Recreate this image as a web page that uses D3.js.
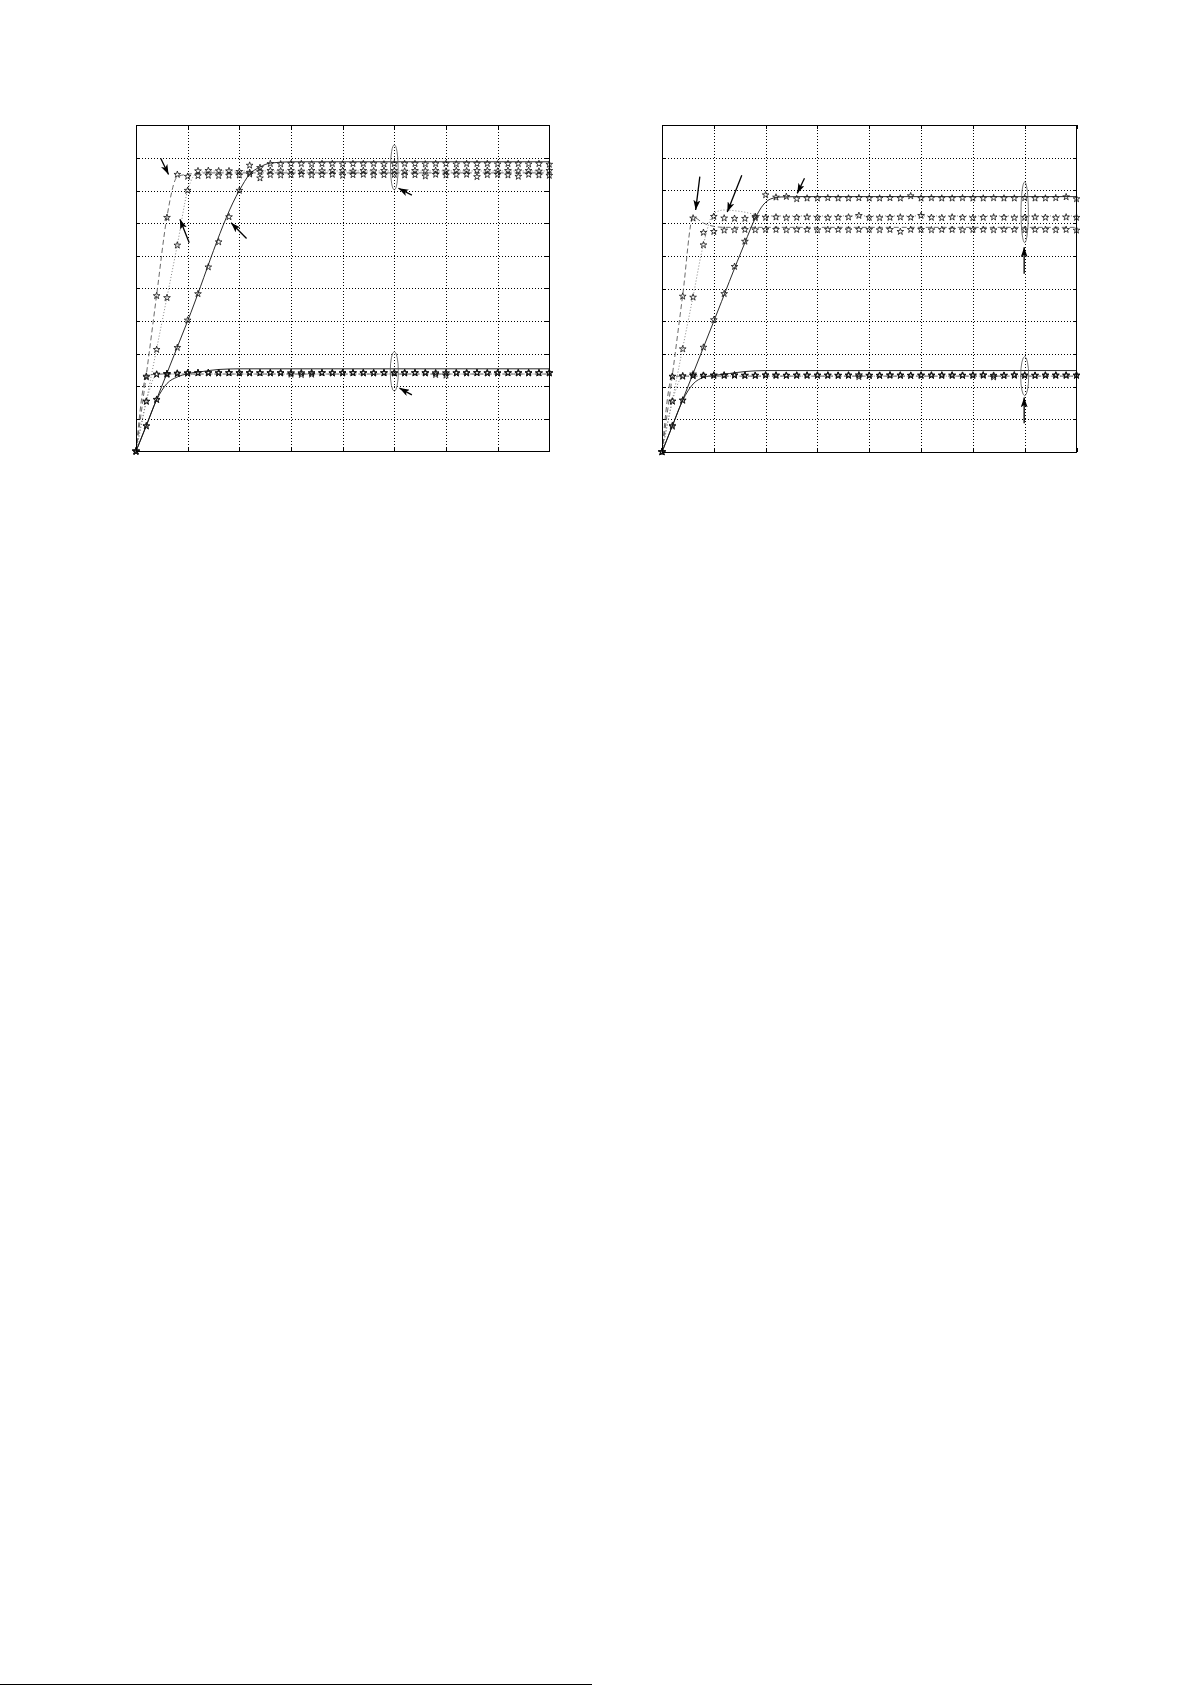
<!DOCTYPE html>
<html><head><meta charset="utf-8">
<script src="https://cdn.jsdelivr.net/npm/d3@7"></script>
<style>body{margin:0;background:#fff}svg{display:block}</style>
</head><body>
<svg id="chart" width="1191" height="1685"></svg>
<script>
// ---------- data ----------
const timeTicks = [0,1,2,3,4,5,6,7,8];
const levelTicks = [0,1,2,3,4,5,6,7,8,9,10];
const sampleTimes = [0,0.2,0.4,0.6,0.8,1,1.2,1.4,1.6,1.8,2,2.2,2.4,2.6,2.8,3,3.2,3.4,3.6,3.8,4,4.2,4.4,4.6,4.8,5,5.2,5.4,5.6,5.8,6,6.2,6.4,6.6,6.8,7,7.2,7.4,7.6,7.8,8];

// left panel – star samples
const lSolidUpStars = [0,0.78,1.58,2.36,3.18,4.02,4.83,5.65,6.42,7.19,8.00,8.77,8.70,
 8.82,8.81,8.82,8.82,8.81,8.82,8.82,8.81,8.82,8.82,8.82,8.81,8.82,8.82,8.82,8.81,8.82,8.82,8.81,8.82,8.82,8.82,8.81,8.82,8.82,8.81,8.82,8.80];
const lDashUpStars = [0,2.30,4.77,7.17,8.49,8.43,8.45,8.46,8.45,8.46,8.47,8.50,8.38,
 8.48,8.47,8.48,8.49,8.47,8.48,8.49,8.46,8.48,8.49,8.47,8.48,8.49,8.47,8.48,8.44,8.49,8.47,8.48,8.49,8.42,8.48,8.49,8.47,8.43,8.49,8.47,8.46];
const lDotUpStars = [0,1.53,3.12,4.71,6.32,8.00,8.60,8.61,8.60,8.60,8.58,8.55,8.57,
 8.61,8.60,8.61,8.59,8.61,8.60,8.61,8.61,8.59,8.61,8.60,8.61,8.61,8.59,8.61,8.60,8.61,8.59,8.61,8.60,8.61,8.61,8.59,8.61,8.60,8.61,8.59,8.61];
const lSolidLowStars = [0,0.77,1.59,2.36,2.38,2.39,
 2.40,2.40,2.40,2.41,2.40,2.40,2.40,2.40,2.41,2.36,2.35,2.36,2.40,2.40,2.40,2.41,2.40,2.40,2.40,2.40,2.40,2.41,2.40,2.35,2.33,2.40,2.40,2.41,2.40,2.40,2.40,2.40,2.41,2.40,2.40];
const lDashLowStars = [0,2.28,2.36,2.38,2.39,2.40,
 2.40,2.41,2.40,2.40,2.40,2.41,2.40,2.40,2.40,2.40,2.40,2.40,2.41,2.40,2.40,2.40,2.41,2.40,2.40,2.40,2.41,2.40,2.40,2.40,2.40,2.40,2.41,2.40,2.40,2.40,2.41,2.40,2.40,2.40,2.41];
const lDotLowStars = [0,1.53,2.36,2.38,2.39,2.40,
 2.41,2.40,2.40,2.40,2.41,2.40,2.40,2.41,2.40,2.40,2.40,2.41,2.40,2.40,2.41,2.40,2.40,2.40,2.41,2.40,2.40,2.40,2.41,2.40,2.40,2.40,2.40,2.41,2.40,2.40,2.40,2.41,2.40,2.40,2.40];

// left panel – curves
const lSolidUpT = [0,1,2,2.2,2.4,2.6,3,8];
const lSolidUpV = [0,4,8,8.5,8.72,8.84,8.88,8.88];
const lDashUpT = [0,0.2,0.4,0.6,0.8,1,1.4,8];
const lDashUpV = [0,2.35,4.8,7.2,8.42,8.5,8.54,8.54];
const lDotUpT = [0,0.2,0.4,0.6,0.8,1,1.2,1.6,8];
const lDotUpV = [0,1.55,3.15,4.73,6.33,8.0,8.55,8.6,8.6];
const lSolidLowT = [0,0.2,0.4,0.6,0.8,1,1.3,1.6,2,8];
const lSolidLowV = [0,0.78,1.58,2.08,2.28,2.38,2.45,2.51,2.53,2.53];
const lDashLowT = [0,0.2,0.3,0.5,8];
const lDashLowV = [0,2.28,2.35,2.37,2.37];
const lDotLowT = [0,0.2,0.4,0.6,8];
const lDotLowV = [0,1.53,2.35,2.37,2.37];

// right panel – star samples
const rSolidUpStars = [0,0.78,1.58,2.38,3.20,4.04,4.84,5.67,6.44,7.20,7.86,7.79,7.81,7.74,
 7.76,7.76,7.77,7.76,7.76,7.77,7.76,7.76,7.77,7.76,7.83,7.76,7.77,7.76,7.76,7.77,7.76,7.76,7.77,7.76,7.76,7.77,7.76,7.76,7.77,7.80,7.74];
const rDashUpStars = [0,2.31,4.76,7.15,6.71,6.74,
 6.78,6.79,6.80,6.79,6.80,6.80,6.79,6.80,6.80,6.79,6.80,6.80,6.79,6.80,6.80,6.79,6.80,6.74,6.80,6.80,6.79,6.80,6.80,6.79,6.80,6.80,6.79,6.80,6.80,6.79,6.80,6.80,6.79,6.80,6.78];
const rDotUpStars = [0,1.55,3.15,4.73,6.33,7.20,
 7.15,7.14,7.14,7.16,7.17,7.18,7.16,7.17,7.18,7.17,7.16,7.17,7.18,7.23,7.17,7.16,7.17,7.18,7.17,7.23,7.17,7.16,7.18,7.17,7.16,7.17,7.18,7.17,7.16,7.17,7.18,7.17,7.16,7.18,7.17];
const rSolidLowStars = [0,0.81,1.58,2.34,2.34,2.35,
 2.34,2.35,2.34,2.34,2.35,2.34,2.34,2.35,2.34,2.34,2.35,2.34,2.34,2.35,2.34,2.34,2.35,2.34,2.34,2.35,2.34,2.34,2.35,2.34,2.34,2.35,2.34,2.34,2.35,2.34,2.34,2.35,2.34,2.34,2.35];
const rDashLowStars = [0,2.31,2.33,2.34,2.34,2.34,
 2.35,2.34,2.34,2.34,2.35,2.34,2.34,2.34,2.35,2.34,2.34,2.34,2.35,2.30,2.34,2.34,2.35,2.34,2.34,2.34,2.35,2.34,2.34,2.34,2.35,2.34,2.29,2.34,2.35,2.34,2.34,2.34,2.35,2.34,2.34];
const rDotLowStars = [0,1.55,2.31,2.33,2.34,2.34,
 2.34,2.35,2.34,2.34,2.34,2.35,2.34,2.34,2.34,2.35,2.34,2.34,2.34,2.35,2.34,2.34,2.34,2.35,2.34,2.34,2.34,2.35,2.34,2.34,2.34,2.35,2.34,2.34,2.34,2.35,2.34,2.34,2.34,2.35,2.34];

// right panel – curves
const rSolidUpT = [0,1,1.6,1.8,1.95,2.1,2.3,2.6,8];
const rSolidUpV = [0,4,6.4,7.15,7.55,7.74,7.8,7.81,7.81];
const rDashUpT = [0,0.2,0.4,0.6,0.8,1,1.2,8];
const rDashUpV = [0,2.35,4.8,7.18,7.0,6.9,6.87,6.87];
const rDotUpT = [0,0.2,0.4,0.6,0.8,1,1.2,1.5,2,8];
const rDotUpV = [0,1.58,3.18,4.76,6.35,7.3,7.4,7.36,7.22,7.22];
const rSolidLowT = [0,0.2,0.4,0.6,0.8,1,1.3,1.6,2,8];
const rSolidLowV = [0,0.8,1.58,2.08,2.28,2.34,2.40,2.46,2.49,2.49];
const rDashLowT = [0,0.2,0.35,8];
const rDashLowV = [0,2.3,2.32,2.32];
const rDotLowT = [0,0.2,0.4,0.55,8];
const rDotLowV = [0,1.55,2.3,2.32,2.32];

// annotations (data units)
const lEllipses = [[5.0,8.71,0.074,0.69],[5.0,2.45,0.078,0.61]];
const lArrows = [[0.48,8.98,0.63,8.49],[1.03,6.40,0.85,7.12],[2.14,6.53,1.84,7.01],[5.34,7.86,5.08,8.07],[5.34,1.73,5.10,1.94]];
const rEllipses = [[7.0,7.33,0.071,0.93],[7.0,2.32,0.077,0.60]];
const rArrows = [[0.73,8.42,0.65,7.40],[1.54,8.46,1.26,7.34],[2.75,8.37,2.61,7.91],[6.99,5.45,6.99,6.26],[6.99,0.88,6.99,1.67]];

// ---------- drawing ----------
const svg = d3.select("#chart");
svg.append("rect").attr("width",1191).attr("height",1685).attr("fill","#fff");

const defs = svg.append("defs");
defs.append("marker").attr("id","arrowHead")
  .attr("viewBox","0 0 10 7").attr("refX",10).attr("refY",3.5)
  .attr("markerWidth",10).attr("markerHeight",7)
  .attr("markerUnits","userSpaceOnUse").attr("orient","auto")
  .append("path").attr("d","M0,0 L10,3.5 L0,7 L2.5,3.5 Z").attr("fill","#000");

const styles = {
  solid: {stroke:"#111", width:0.9, dash:null},
  dash:  {stroke:"#444", width:0.8, dash:"5,3"},
  dot:   {stroke:"#777", width:0.9, dash:"1,2"}
};

const panels = [
  { box:{l:136, r:549.3, t:125.3, b:451.3},
    lines:[["solid",lSolidUpT,lSolidUpV],["dash",lDashUpT,lDashUpV],["dot",lDotUpT,lDotUpV],
           ["solid",lSolidLowT,lSolidLowV],["dash",lDashLowT,lDashLowV],["dot",lDotLowT,lDotLowV]],
    stars:[lSolidUpStars,lDashUpStars,lDotUpStars,lSolidLowStars,lDashLowStars,lDotLowStars],
    ellipses:lEllipses, arrows:lArrows },
  { box:{l:662, r:1076.5, t:125, b:452},
    lines:[["solid",rSolidUpT,rSolidUpV],["dash",rDashUpT,rDashUpV],["dot",rDotUpT,rDotUpV],
           ["solid",rSolidLowT,rSolidLowV],["dash",rDashLowT,rDashLowV],["dot",rDotLowT,rDotLowV]],
    stars:[rSolidUpStars,rDashUpStars,rDotUpStars,rSolidLowStars,rDashLowStars,rDotLowStars],
    ellipses:rEllipses, arrows:rArrows }
];

panels.forEach(p => {
  const {l,r,t,b} = p.box;
  const x = d3.scaleLinear().domain([0,8]).range([l,r]);
  const y = d3.scaleLinear().domain([0,10]).range([b,t]);
  const g = svg.append("g");

  const inner = timeTicks.slice(1,-1), innerY = levelTicks.slice(1,-1);
  // grid
  const gx = g.append("g").attr("transform",`translate(0,${b})`)
    .call(d3.axisBottom(x).tickValues(inner).tickSize(-(b-t)).tickFormat(""));
  const gy = g.append("g").attr("transform",`translate(${l},0)`)
    .call(d3.axisLeft(y).tickValues(innerY).tickSize(-(r-l)).tickFormat(""));
  [gx,gy].forEach(a => {
    a.select(".domain").remove();
    a.selectAll("text").remove();
    a.selectAll("line").attr("stroke","#000").attr("stroke-width",1)
      .attr("stroke-dasharray","1,2").attr("shape-rendering","crispEdges");
  });
  // inward tick marks on all four sides
  const tk = 4;
  const ax = [
    g.append("g").attr("transform",`translate(0,${b})`).call(d3.axisBottom(x).tickValues(timeTicks).tickSize(-tk).tickFormat("")),
    g.append("g").attr("transform",`translate(0,${t})`).call(d3.axisTop(x).tickValues(timeTicks).tickSize(-tk).tickFormat("")),
    g.append("g").attr("transform",`translate(${l},0)`).call(d3.axisLeft(y).tickValues(levelTicks).tickSize(-tk).tickFormat("")),
    g.append("g").attr("transform",`translate(${r},0)`).call(d3.axisRight(y).tickValues(levelTicks).tickSize(-tk).tickFormat(""))
  ];
  ax.forEach(a => { a.select(".domain").remove(); a.selectAll("text").remove();
    a.selectAll("line").attr("stroke","#000").attr("stroke-width",1).attr("shape-rendering","crispEdges"); });

  // curves
  p.lines.forEach(([kind,T,V]) => {
    const s = styles[kind];
    const line = d3.line().x(d=>x(d[0])).y(d=>y(d[1])).curve(d3.curveMonotoneX);
    g.append("path").attr("d", line(T.map((tt,i)=>[tt,V[i]])))
      .attr("fill","none").attr("stroke",s.stroke).attr("stroke-width",s.width)
      .attr("stroke-dasharray",s.dash);
  });

  // star markers
  const star = d3.symbol().type(d3.symbolStar).size(14);
  p.stars.forEach(vals => {
    g.append("g").selectAll("path").data(vals).join("path")
      .attr("d", star)
      .attr("transform",(v,i)=>`translate(${x(sampleTimes[i])},${y(v)})`)
      .attr("fill","none").attr("stroke","#111").attr("stroke-width",0.8);
  });

  // ellipses
  p.ellipses.forEach(([cx,cy,rx,ry]) => {
    g.append("ellipse").attr("cx",x(cx)).attr("cy",y(cy))
      .attr("rx",x(cx+rx)-x(cx)).attr("ry",y(cy)-y(cy+ry))
      .attr("fill","none").attr("stroke","#555").attr("stroke-width",0.8);
  });
  // arrows
  p.arrows.forEach(([x1,y1,x2,y2]) => {
    g.append("line").attr("x1",x(x1)).attr("y1",y(y1)).attr("x2",x(x2)).attr("y2",y(y2))
      .attr("stroke","#000").attr("stroke-width",1.3).attr("marker-end","url(#arrowHead)");
  });

  // frame
  g.append("rect").attr("x",l).attr("y",t).attr("width",r-l).attr("height",b-t)
    .attr("fill","none").attr("stroke","#000").attr("stroke-width",1)
    .attr("shape-rendering","crispEdges");
});

// footnote rule at the bottom of the page
svg.append("line").attr("x1",0).attr("x2",592).attr("y1",1684.5).attr("y2",1684.5)
  .attr("stroke","#000").attr("stroke-width",1);
</script>
</body></html>
